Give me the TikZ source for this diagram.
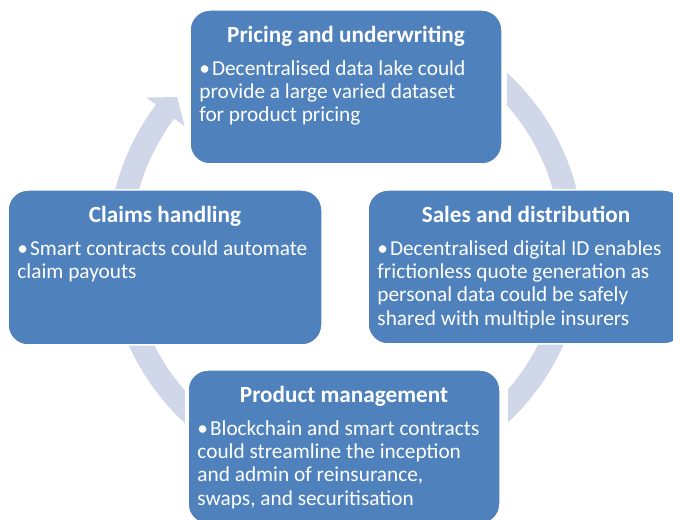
\documentclass[tikz,border=0pt]{standalone}
\usepackage{fontspec}
\setmainfont{Carlito}
\usetikzlibrary{calc,positioning}
\definecolor{boxblue}{HTML}{4F81BD}
\definecolor{ringgray}{HTML}{D0D7E8}

\begin{document}
\begin{tikzpicture}[x=1pt,y=1pt,
    stage/.style={rectangle,rounded corners=20pt,fill=boxblue,draw=white,line width=1.5pt,
        minimum width=312pt,minimum height=154pt},
    heading/.style={text=white,font=\fontsize{23.2}{26}\selectfont\bfseries,anchor=base,inner sep=0pt},
    bullets/.style={text=white,font=\fontsize{21.3}{23.1}\selectfont,align=left,anchor=north west,inner sep=0pt},
    ringpart/.style={fill=ringgray,draw=none}]

    \useasboundingbox (0,0) rectangle (673,520);
    \clip (0,0) rectangle (673,520);

    % centre of the cycle ring
    \coordinate (ring) at (346,272);

    % ring segments, drawn under the boxes
    \fill[ringpart] ($(ring)+(47.4:238)$) arc[start angle=47.4,end angle=-10,radius=238]
        -- ($(ring)+(-10:215)$) arc[start angle=-10,end angle=41.5,radius=215] -- cycle;
    \fill[ringpart] ($(ring)+(5:238)$) arc[start angle=5,end angle=-47.1,radius=238]
        -- ($(ring)+(-41.1:215)$) arc[start angle=-41.1,end angle=5,radius=215] -- cycle;
    \fill[ringpart] ($(ring)+(-132.6:238)$) arc[start angle=-132.6,end angle=-185,radius=238]
        -- ($(ring)+(-185:215)$) arc[start angle=-185,end angle=-138.5,radius=215] -- cycle;
    %segment with the visible head
    \fill[ringpart] ($(ring)+(190:238)$) arc[start angle=190,end angle=143,radius=238]
        -- ($(ring)+(143:250)$) -- ($(ring)+(138.2:226.5)$) -- ($(ring)+(143:202)$)
        -- ($(ring)+(143:215)$) arc[start angle=143,end angle=190,radius=215] -- cycle;

    % the four stages
    \node[stage] (pricing) at (346,433) {};
    \node[stage,minimum width=314pt,minimum height=155pt] (claims) at (165,252.5) {};
    \node[stage,minimum width=316pt] (sales) at (526,253) {};
    \node[stage] (product) at (344,73) {};

    \node[heading] (pricingT) at ($(pricing.north)+(0,-33)$) {Pricing and underwriting};
    \node[heading] (claimsT) at ($(claims.north)+(0,-33)$) {Claims handling};
    \node[heading] (salesT) at ($(sales.north)+(0,-33)$) {Sales and distribution};
    \node[heading] (productT) at ($(product.north)+(0,-33)$) {Product management};

    \node[bullets] (pricingB) at ($(pricing.north west)+(10,-51.5)$)
        {•\hspace{2pt}Decentralised data lake could\\provide a large varied dataset\\for product pricing};
    \node[bullets] (claimsB) at ($(claims.north west)+(10,-51.5)$)
        {•\hspace{2pt}Smart contracts could automate\\claim payouts};
    \node[bullets] (salesB) at ($(sales.north west)+(10,-51.5)$)
        {•\hspace{2pt}Decentralised digital ID enables\\frictionless quote generation as\\personal data could be safely\\shared with multiple insurers};
    \node[bullets] (productB) at ($(product.north west)+(10,-51.5)$)
        {•\hspace{2pt}Blockchain and smart contracts\\could streamline the inception\\and admin of reinsurance,\\swaps, and securitisation};
\end{tikzpicture}
\end{document}
